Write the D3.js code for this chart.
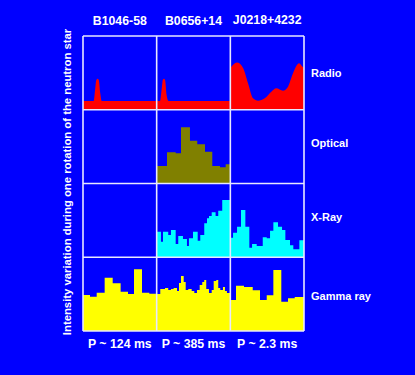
<!DOCTYPE html>
<html><head><meta charset="utf-8">
<script src="https://cdn.jsdelivr.net/npm/d3@7/dist/d3.min.js"></script>
<style>html,body{margin:0;padding:0;background:#0000ff;}svg{display:block}</style>
</head><body>
<script>
// ---- data ----
const pulsars = ["B1046-58", "B0656+14", "J0218+4232"];
const periods = ["P ~ 124 ms", "P ~ 385 ms", "P ~ 2.3 ms"];
const bands = ["Radio", "Optical", "X-Ray", "Gamma ray"];
const bandColors = ["#ff0000", "#808000", "#00ffff", "#ffff00"];
const yLabel = "Intensity variation during one rotation of the neutron star";

// radio profiles: [phase, relative intensity] (smooth)
const radioB1046 = [[0,0.12],[0.145,0.12],[0.165,0.28],[0.18,0.4],[0.2,0.42],[0.215,0.4],[0.235,0.22],[0.255,0.12],[1,0.12]];
const radioB0656 = [[0,0.12],[0.045,0.12],[0.07,0.3],[0.085,0.41],[0.1,0.42],[0.115,0.4],[0.135,0.2],[0.16,0.12],[1,0.12]];
const radioJ0218 = [[0,0.566],[0.09,0.64],[0.173,0.566],[0.24,0.36],[0.308,0.155],[0.376,0.123],[0.467,0.155],[0.557,0.244],[0.624,0.29],[0.715,0.258],[0.783,0.312],[0.851,0.494],[0.933,0.629],[0.987,0.575],[1,0.57]];

// histograms: [bin start phase, relative intensity]
const opticalB0656 = [[0,0.237],[0.14,0.423],[0.258,0.41],[0.33,0.762],[0.452,0.58],[0.551,0.532],[0.656,0.431],[0.755,0.237],[0.859,0.22],[0.937,0.26]];
const xrayB0656 = [[0,0.346],[0.058,0.211],[0.086,0.346],[0.157,0.302],[0.194,0.369],[0.258,0.18],[0.293,0.288],[0.357,0.247],[0.411,0.153],[0.438,0.257],[0.493,0.346],[0.557,0.224],[0.592,0.302],[0.646,0.46],[0.683,0.528],[0.71,0.559],[0.747,0.61],[0.80,0.559],[0.836,0.631],[0.89,0.776]];
const xrayJ0218 = [[0,0.265],[0.037,0.333],[0.091,0.414],[0.145,0.641],[0.204,0.414],[0.258,0.13],[0.295,0.18],[0.358,0.153],[0.44,0.27],[0.494,0.257],[0.539,0.36],[0.584,0.474],[0.647,0.414],[0.702,0.369],[0.747,0.234],[0.81,0.162],[0.855,0.108],[0.937,0.23]];
const gammaB1046 = [[0,0.488],[0.095,0.465],[0.186,0.519],[0.294,0.723],[0.403,0.647],[0.511,0.533],[0.611,0.502],[0.692,0.837],[0.801,0.519],[0.9,0.505]];
const gammaB0656 = [[0,0.502],[0.049,0.57],[0.113,0.583],[0.157,0.556],[0.194,0.57],[0.23,0.583],[0.276,0.543],[0.303,0.651],[0.33,0.746],[0.367,0.665],[0.394,0.556],[0.429,0.57],[0.475,0.543],[0.511,0.515],[0.547,0.556],[0.584,0.624],[0.619,0.665],[0.646,0.692],[0.673,0.57],[0.71,0.515],[0.747,0.556],[0.774,0.678],[0.809,0.692],[0.836,0.583],[0.863,0.556],[0.9,0.597],[0.927,0.543],[0.954,0.515]];
const gammaJ0218 = [[0,0.42],[0.077,0.614],[0.186,0.597],[0.304,0.552],[0.403,0.42],[0.494,0.484],[0.584,0.827],[0.692,0.397],[0.783,0.443],[0.874,0.461]];

// panels: [column, row, data, kind]
const panels = [
  [0,0,radioB1046,"smooth"],[1,0,radioB0656,"smooth"],[2,0,radioJ0218,"smooth"],
  [1,1,opticalB0656,"step"],
  [1,2,xrayB0656,"step"],[2,2,xrayJ0218,"step"],
  [0,3,gammaB1046,"step"],[1,3,gammaB0656,"step"],[2,3,gammaJ0218,"step"]
];

// ---- drawing ----
const W = 415, H = 375;
const svg = d3.select("body").append("svg").attr("width", W).attr("height", H);
svg.append("rect").attr("width", W).attr("height", H).attr("fill", "#0000ff");

const colX = d3.scaleLinear().domain([0, 3]).range([83, 304]);
const rowY = d3.scaleLinear().domain([0, 4]).range([36, 331]);
const cw = colX(1) - colX(0), rh = rowY(1) - rowY(0);

const defs = svg.append("defs");
panels.forEach(([c, r, data, kind], i) => {
  const x = d3.scaleLinear().domain([0, 1]).range([colX(c), colX(c + 1)]);
  const y = d3.scaleLinear().domain([0, 1]).range([rowY(r + 1), rowY(r)]);
  defs.append("clipPath").attr("id", "cp" + i).append("rect")
    .attr("x", colX(c)).attr("y", rowY(r)).attr("width", cw).attr("height", rh);
  let pts = data;
  if (kind === "step") pts = data.concat([[1, data[data.length - 1][1]]]);
  const area = d3.area().x(d => x(d[0])).y0(y(0)).y1(d => y(d[1]))
    .curve(kind === "step" ? d3.curveStepAfter : d3.curveMonotoneX);
  svg.append("path").datum(pts).attr("d", area)
    .attr("fill", bandColors[r]).attr("clip-path", "url(#cp" + i + ")");
});

// grid
const grid = svg.append("g").attr("stroke", "#e8e8ff").attr("stroke-width", 1.6);
d3.range(4).forEach(i => grid.append("line").attr("x1", colX(i)).attr("x2", colX(i)).attr("y1", rowY(0)).attr("y2", rowY(4)));
d3.range(5).forEach(i => grid.append("line").attr("x1", colX(0)).attr("x2", colX(3)).attr("y1", rowY(i)).attr("y2", rowY(i)));

const font = "'Liberation Sans', Arial, Helvetica, sans-serif";
const bandY = [77, 147, 221, 300];
svg.selectAll(".title").data(pulsars).join("text")
  .attr("x", (d, i) => colX(i + 0.5)).attr("y", (d, i) => i === 2 ? 24 : 25)
  .attr("text-anchor", "middle").attr("fill", "#fff").attr("font-family", font)
  .attr("font-weight", "bold").attr("font-size", 12.3).text(d => d);
svg.selectAll(".period").data(periods).join("text")
  .attr("x", (d, i) => colX(i + 0.5)).attr("y", 348)
  .attr("text-anchor", "middle").attr("fill", "#fff").attr("font-family", font)
  .attr("font-weight", "bold").attr("font-size", 12.3).text(d => d);
svg.selectAll(".band").data(bands).join("text")
  .attr("x", 311).attr("y", (d, i) => bandY[i])
  .attr("fill", "#fff").attr("font-family", font)
  .attr("font-weight", "bold").attr("font-size", 11).text(d => d);
svg.append("text").attr("transform", "translate(71," + 182 + ") rotate(-90)")
  .attr("text-anchor", "middle").attr("fill", "#fff").attr("font-family", font)
  .attr("font-weight", "bold").attr("font-size", 11.3).text(yLabel);
</script>
</body></html>
